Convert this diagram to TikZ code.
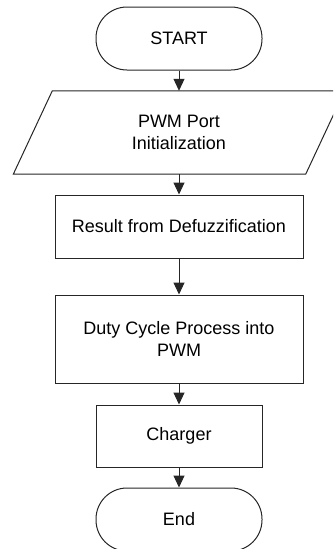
\documentclass[tikz,border=0pt]{standalone}
\usepackage{fontspec}
\setmainfont{Liberation Sans}
\usetikzlibrary{arrows.meta,calc}
\begin{document}
\begin{tikzpicture}[x=1pt,y=-1pt,
  every node/.style={font=\fontsize{18}{22}\selectfont, align=center, inner sep=0pt},
  line/.style={draw=black!85, line width=1pt},
  term/.style={line, rectangle, rounded corners=31pt, minimum width=166pt, minimum height=63pt},
  proc/.style={line, rectangle, minimum width=248pt},
  flow/.style={draw=black!85, line width=1pt, -{Triangle[length=12pt,width=11pt]}}]
\useasboundingbox (0,0) rectangle (333,549);
\clip (0,0) rectangle (333,549);
\node[term] (start) at (179,38.5) {START};
\node[minimum width=292pt, minimum height=83pt] (pwm) at (179,132.5) {PWM Port\\Initialization};
\draw[line] ($(pwm.north west)+(19.5,0)$) -- ($(pwm.north east)+(19.5,0)$)
  -- ($(pwm.south east)+(-19.5,0)$) -- ($(pwm.south west)+(-19.5,0)$) -- cycle;
\node[proc, minimum height=63pt] (res) at (179,226.5) {Result from Defuzzification};
\node[proc, minimum height=88pt] (duty) at (179,339) {Duty Cycle Process into\\PWM};
\node[line, rectangle, minimum width=166pt, minimum height=62pt] (chg) at (179,436) {Charger};
\node[term] (end) at (179,519.5) {End};
\draw[flow] (start) -- (pwm);
\draw[flow] (pwm) -- (res);
\draw[flow] (res) -- (duty);
\draw[flow] (duty) -- (chg);
\draw[flow] (chg) -- (end);
\end{tikzpicture}
\end{document}
